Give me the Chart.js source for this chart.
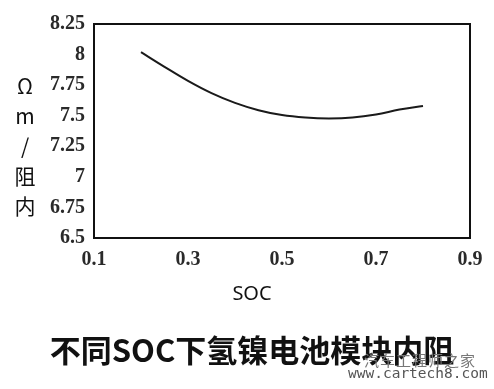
<!DOCTYPE html>
<html>
<head>
<meta charset="utf-8">
<script src="https://cdn.jsdelivr.net/npm/chart.js@4"></script>
<style>
  body { margin: 0; background: #fff; }
  #wrap { position: relative; width: 494px; height: 389px; }
  #ylabel {
    position: absolute; left: 10px; top: 70px; width: 30px;
    font-family: "Noto Sans CJK SC", "Noto Sans", sans-serif; font-size: 21px;
    line-height: 30px; text-align: center; color: #111;
  }
  #xlabel {
    position: absolute; left: 202px; top: 279px; width: 100px; text-align: center;
    font-family: "Noto Sans", sans-serif; font-size: 20px; color: #111;
  }
  #title {
    position: absolute; left: 0; top: 329px; width: 504px; text-align: center;
    font-family: "Noto Sans CJK SC", sans-serif; font-size: 31px; font-weight: bold;
    line-height: 40px; color: #111;
  }
  #wm1 {
    position: absolute; left: 364px; top: 349px; letter-spacing: 1px;
    font-family: "Noto Sans CJK SC", sans-serif; font-size: 15px; color: #777;
  }
  #wm2 {
    position: absolute; left: 348px; top: 365px;
    font-family: "DejaVu Sans Mono", monospace; font-size: 14.5px; color: #555;
  }
</style>
</head>
<body>
<div id="wrap">
  <canvas id="myChart" width="494" height="389"></canvas>
  <div id="ylabel">Ω<br>m<br>/<br>阻<br>内</div>
  <div id="xlabel">SOC</div>
  <div id="title">不同SOC下氢镍电池模块内阻</div>
  <div id="wm1">汽车工程师之家</div>
  <div id="wm2">www.cartech8.com</div>
</div>
<script>
const socValues = [0.2, 0.25, 0.3, 0.35, 0.4, 0.45, 0.5, 0.55, 0.6, 0.65, 0.7, 0.75, 0.8]
const resistance = [8.02, 7.9, 7.785, 7.685, 7.605, 7.545, 7.505, 7.485, 7.478, 7.485, 7.51, 7.55, 7.58]
const xTicks = [0.1, 0.3, 0.5, 0.7, 0.9]
const yTicks = [6.5, 6.75, 7, 7.25, 7.5, 7.75, 8, 8.25]

const points = socValues.map((x, i) => ({ x: x, y: resistance[i] }))

// box around the plot area
const frame = {
    id: 'frame',
    afterDraw(chart) {
        const a = chart.chartArea
        const ctx = chart.ctx
        ctx.save()
        ctx.strokeStyle = '#111'
        ctx.lineWidth = 2
        ctx.strokeRect(a.left, a.top, a.right - a.left, a.bottom - a.top)
        ctx.restore()
    }
}

const tickFont = { family: '"Liberation Serif", serif', size: 20, weight: 'bold' }

const config = {
    type: 'line',
    data: {
        datasets: [{
            data: points,
            borderColor: '#1a1a1a',
            borderWidth: 2,
            pointRadius: 0,
            tension: 0.4,
            fill: false
        }]
    },
    options: {
        responsive: false,
        animation: false,
        layout: { padding: { top: 24, right: 24, left: 0, bottom: 0 } },
        plugins: {
            legend: { display: false },
            tooltip: { enabled: false }
        },
        scales: {
            x: {
                type: 'linear',
                min: 0.1,
                max: 0.9,
                afterBuildTicks: s => { s.ticks = xTicks.map(v => ({ value: v })) },
                afterFit: s => { s.height = 151 },
                grid: { display: false },
                border: { display: false },
                ticks: { color: '#2a2a2a', font: tickFont, padding: 2, maxRotation: 0, callback: v => String(v) }
            },
            y: {
                min: 6.5,
                max: 8.25,
                afterBuildTicks: s => { s.ticks = yTicks.map(v => ({ value: v })) },
                afterFit: s => { s.width = 94 },
                grid: { display: false },
                border: { display: false },
                ticks: { color: '#2a2a2a', font: tickFont, padding: 1, callback: v => String(v) }
            }
        }
    },
    plugins: [frame]
}

const myChart = new Chart(document.getElementById('myChart'), config)
</script>
</body>
</html>
